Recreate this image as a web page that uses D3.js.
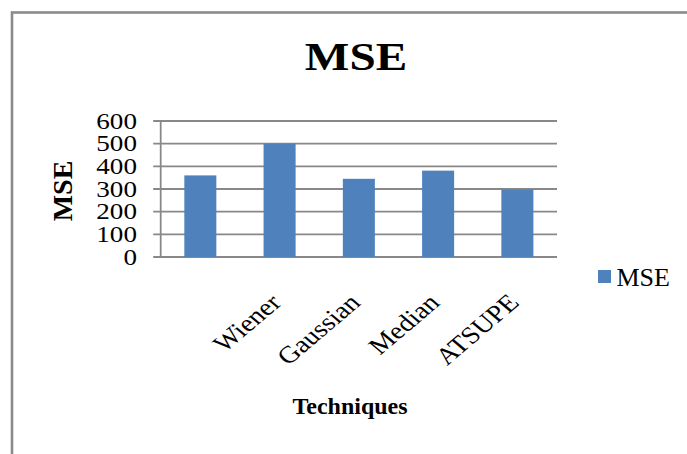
<!DOCTYPE html>
<html>
<head>
<meta charset="utf-8">
<script src="https://cdn.jsdelivr.net/npm/d3@7"></script>
<style>
  html, body { margin: 0; padding: 0; background: #fff; }
  svg { display: block; }
  text { font-family: "Liberation Serif", "Times New Roman", serif; fill: #000; }
</style>
</head>
<body>
<svg id="chart" width="687" height="454"></svg>
<script>
// Chart data
const categories = ["", "Wiener", "Gaussian", "Median", "ATSUPE"];
const mseValues = [360, 500, 345, 381, 298];
const yTickValues = [0, 100, 200, 300, 400, 500, 600];
const seriesName = "MSE";
const chartTitle = "MSE";
const xAxisTitle = "Techniques";
const yAxisTitle = "MSE";

const W = 687, H = 454;
const barColor = "#4f81bd";
const gridColor = "#888888";
const SX = 1.18; // horizontal stretch applied to text glyphs

const svg = d3.select("#chart");
svg.append("rect").attr("width", W).attr("height", H).attr("fill", "#fff");

// outer chart frame (runs past the right and bottom edges)
svg.append("rect")
  .attr("x", 12).attr("y", 12.5)
  .attr("width", 720).attr("height", 480)
  .attr("fill", "none")
  .attr("stroke", "#8a8a8a")
  .attr("stroke-width", 2.6);

const plot = { left: 160.7, right: 557, top: 121, bottom: 257 };

const x = d3.scaleBand()
  .domain(categories)
  .range([plot.left, plot.right])
  .paddingInner(0.596)
  .paddingOuter(0.298);

const y = d3.scaleLinear()
  .domain([0, 600])
  .range([plot.bottom, plot.top]);

// horizontal gridlines with short outer tick marks on the left
svg.append("g")
  .selectAll("line")
  .data(yTickValues)
  .join("line")
  .attr("x1", plot.left - 7.5)
  .attr("x2", plot.right)
  .attr("y1", d => y(d))
  .attr("y2", d => y(d))
  .attr("stroke", gridColor)
  .attr("stroke-width", 1.8);

// vertical axis line
svg.append("line")
  .attr("x1", plot.left).attr("x2", plot.left)
  .attr("y1", y(600)).attr("y2", y(0))
  .attr("stroke", gridColor)
  .attr("stroke-width", 1.8);

// bars
svg.append("g")
  .selectAll("rect")
  .data(categories.map((c, i) => ({ c, v: mseValues[i] })))
  .join("rect")
  .attr("x", d => x(d.c))
  .attr("width", x.bandwidth())
  .attr("y", d => y(d.v))
  .attr("height", d => y(0) - y(d.v))
  .attr("fill", barColor);

// y tick labels
svg.append("g")
  .selectAll("text")
  .data(yTickValues)
  .join("text")
  .attr("transform", d => `translate(137,${y(d) + 7.8}) scale(${SX},1)`)
  .attr("text-anchor", "end")
  .attr("font-size", 23)
  .text(d => d);

// rotated category labels
svg.append("g")
  .selectAll("text")
  .data(categories)
  .join("text")
  .attr("transform", d => `translate(${x(d) + x.bandwidth() / 2 + 3},304) scale(${SX},1) rotate(-45)`)
  .attr("text-anchor", "end")
  .attr("font-size", 24)
  .text(d => d);

// chart title
svg.append("text")
  .attr("transform", `translate(356,70) scale(${SX},1)`)
  .attr("text-anchor", "middle")
  .attr("font-size", 40)
  .attr("font-weight", "bold")
  .text(chartTitle);

// x axis title
svg.append("text")
  .attr("transform", `translate(350,414)`)
  .attr("text-anchor", "middle")
  .attr("font-size", 24)
  .attr("font-weight", "bold")
  .text(xAxisTitle);

// y axis title
svg.append("text")
  .attr("transform", `translate(72,191) rotate(-90)`)
  .attr("text-anchor", "middle")
  .attr("font-size", 28)
  .attr("font-weight", "bold")
  .text(yAxisTitle);

// legend
const legend = svg.append("g").attr("transform", "translate(598,270)");
legend.append("rect")
  .attr("width", 13).attr("height", 13)
  .attr("fill", barColor);
legend.append("text")
  .attr("x", 18.5).attr("y", 16)
  .attr("font-size", 26)
  .text(seriesName);
</script>
</body>
</html>
